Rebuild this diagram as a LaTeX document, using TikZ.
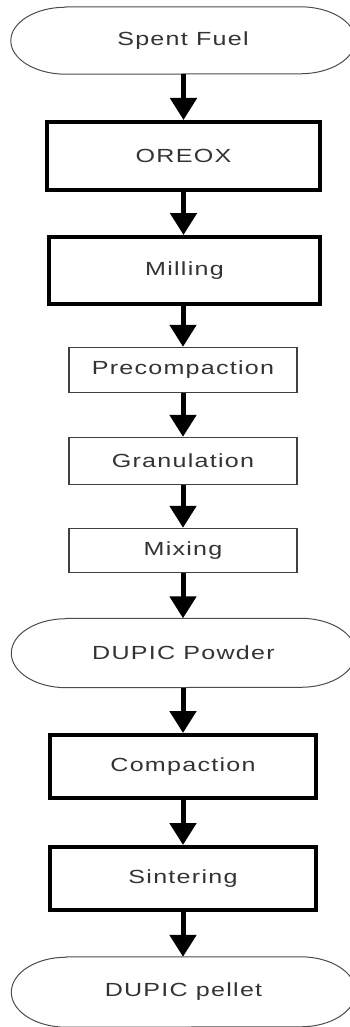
\documentclass[tikz,border=0pt]{standalone}
\usepackage{fontspec}
\setmainfont{Liberation Sans}
\newfontfamily\lblfont[LetterSpace=5]{Liberation Sans}
\usetikzlibrary{arrows.meta}
\begin{document}
\begin{tikzpicture}[x=1pt,y=1pt,
  lbl/.style={font=\lblfont\fontsize{19}{22}\selectfont, text=black!80, inner sep=0pt},
  thickbox/.style={lbl, draw=black, line width=4pt, minimum height=#1},
  thinbox/.style={lbl, draw=black!75, line width=1.4pt, minimum width=228pt, minimum height=#1},
  termnode/.style={lbl, minimum width=344pt, minimum height=#1},
  termline/.style={draw=black!70, line width=1pt},
  flow/.style={line width=5pt, -{Triangle[width=26pt,length=22pt]}}
]
\useasboundingbox (0,0) rectangle (350,-1027);
\newcommand{\scl}[1]{\scalebox{1.32}[1]{#1}}
\newcommand{\termshape}[1]{%
  \draw[termline] ([xshift=55pt]#1.north west) -- ([xshift=-55pt]#1.north east)
    arc[start angle=90,end angle=-90,x radius=55pt,y radius=0.5*\termh]
    -- ([xshift=55pt]#1.south west)
    arc[start angle=270,end angle=90,x radius=55pt,y radius=0.5*\termh] -- cycle;}
\def\termh{67pt}
\node[termnode=67pt] (t1) at (183,-40.5) {\scl{Spent Fuel}};
\termshape{t1}
\node[thickbox=68pt, minimum width=273pt] (b1) at (183.5,-156) {\scl{OREOX}};
\node[thickbox=67pt, minimum width=271pt] (b2) at (184.5,-270.5) {\scl{Milling}};
\node[thinbox=45pt] (b3) at (183,-370) {\scl{Precompaction}};
\node[thinbox=47pt] (b4) at (183,-461) {\scl{Granulation}};
\node[thinbox=44pt] (b5) at (183,-550.5) {\scl{Mixing}};
\def\termh{69pt}
\node[termnode=69pt] (t2) at (183.5,-653) {\scl{DUPIC Powder}};
\termshape{t2}
\node[thickbox=63pt, minimum width=266pt] (b6) at (183,-766.5) {\scl{Compaction}};
\node[thickbox=63pt, minimum width=266pt] (b7) at (183,-878.5) {\scl{Sintering}};
\def\termh{70pt}
\node[termnode=70pt] (t3) at (183.5,-992) {\scl{DUPIC pellet}};
\termshape{t3}
\draw[flow] (t1.south -| b1.north) -- (b1.north);
\draw[flow] (b1.south) -- (b1.south |- b2.north);
\draw[flow] (b2.south -| b3.north) -- (b3.north);
\draw[flow] (b3.south) -- (b4.north);
\draw[flow] (b4.south) -- (b5.north);
\draw[flow] (b5.south) -- (b5.south |- t2.north);
\draw[flow] (t2.south -| b6.north) -- (b6.north);
\draw[flow] (b6.south) -- (b7.north);
\draw[flow] (b7.south) -- (b7.south |- t3.north);
\end{tikzpicture}
\end{document}
